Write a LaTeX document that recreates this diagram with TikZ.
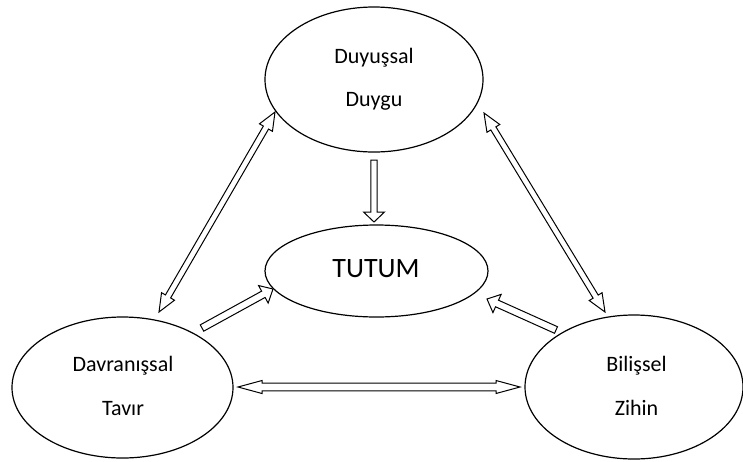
\documentclass[tikz,border=0pt]{standalone}
\usepackage{fontspec}
\setmainfont{Carlito}
\usetikzlibrary{shapes.geometric,calc}
\tikzset{
  ell/.style={ellipse, draw, line width=1.2pt, inner sep=0pt},
  lab/.style={font=\fontsize{22}{26}\selectfont, anchor=base, inner sep=0pt},
  big/.style={font=\fontsize{28}{32}\selectfont, anchor=base, inner sep=0pt},
  arr/.style={draw, line width=1pt, line join=miter, fill=white}
}
% single block arrow: tail, tip, shaft half width, head half width, head length
\newcommand\sarrow[5]{%
  \coordinate (hq) at ($(#2)!#5!(#1)$);
  \path[arr] ($(#1)!#3!90:(#2)$) -- ($(hq)!#3!90:(#2)$) -- ($(hq)!#4!90:(#2)$) -- (#2)
    -- ($(hq)!#4!-90:(#2)$) -- ($(hq)!#3!-90:(#2)$) -- ($(#1)!#3!-90:(#2)$) -- cycle;
}
% double block arrow: tip A, tip B, shaft half width, head half width, head length
\newcommand\darrow[5]{%
  \coordinate (ha) at ($(#1)!#5!(#2)$);
  \coordinate (hb) at ($(#2)!#5!(#1)$);
  \path[arr] (#1) -- ($(ha)!#4!90:(#2)$) -- ($(ha)!#3!90:(#2)$) -- ($(hb)!#3!-90:(#1)$)
    -- ($(hb)!#4!-90:(#1)$) -- (#2) -- ($(hb)!#4!90:(#1)$) -- ($(hb)!#3!90:(#1)$)
    -- ($(ha)!#3!-90:(#2)$) -- ($(ha)!#4!-90:(#2)$) -- cycle;
}
\begin{document}
\begin{tikzpicture}[x=1pt, y=-1pt]
\useasboundingbox (0,0) rectangle (743,461);
% ellipses
\node[ell, minimum width=218pt, minimum height=145pt] (duy) at (374,79.5) {};
\node[ell, minimum width=223pt, minimum height=92pt] (tut) at (376.5,271) {};
\node[ell, minimum width=221pt, minimum height=141pt] (dav) at (122.5,387.5) {};
\node[ell, minimum width=218pt, minimum height=144pt] (bil) at (634,387) {};
% labels
\node[lab] (duy1) at (374,63.3) {Duyuşsal};
\node[lab] (duy2) at (374,106.7) {Duygu};
\node[big] (tut1) at (376,277.3) {TUTUM};
\node[lab] (dav1) at (123,371) {Davranışsal};
\node[lab] (dav2) at (123,415) {Tavır};
\node[lab] (bil1) at (636.5,371) {Bilişsel};
\node[lab] (bil2) at (636.5,415) {Zihin};
% arrow end points
\coordinate (a1) at (275,112);
\coordinate (a2) at (159,312);
\coordinate (b1) at (484,113);
\coordinate (b2) at (605,312);
\coordinate (c1) at (238,387);
\coordinate (c2) at (520,387);
\coordinate (d1) at (202,328);
\coordinate (d2) at (273,289);
\coordinate (e1) at (556,330);
\coordinate (e2) at (487,299);
\coordinate (f1) at (374,160);
\coordinate (f2) at (374,222);
% arrows
\darrow{a1}{a2}{3pt}{7.5pt}{18pt}
\darrow{b1}{b2}{3pt}{7.5pt}{18pt}
\darrow{c1}{c2}{3.8pt}{6.5pt}{24pt}
\sarrow{d1}{d2}{3.6pt}{10pt}{11pt}
\sarrow{e1}{e2}{3.6pt}{10pt}{11pt}
\sarrow{f1}{f2}{3.1pt}{10.5pt}{10pt}
\end{tikzpicture}
\end{document}
